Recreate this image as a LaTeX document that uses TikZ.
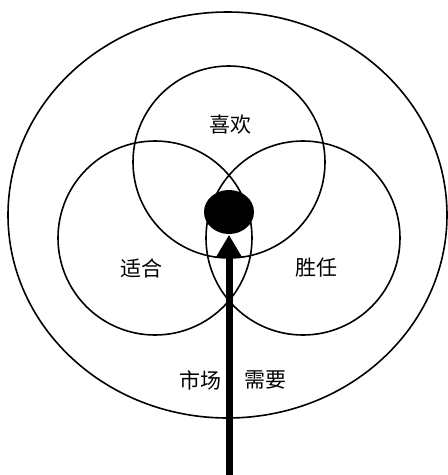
\documentclass[tikz,border=0pt]{standalone}
\usepackage{fontspec}
\newfontfamily\cjk{Noto Sans CJK SC}
\usetikzlibrary{arrows.meta,shapes.geometric}

\begin{document}
\begin{tikzpicture}[x=1pt, y=-1pt, line width=1.6pt,
    txt/.style={font=\cjk\fontsize{21}{24}\selectfont}]
    \useasboundingbox (0,0) rectangle (448,475);
    % 外圈
    \draw (227.5,215) ellipse [x radius=219.5, y radius=203];
    
    % 三个圆
    \draw (229,162) circle [radius=96];
    \draw (155,238) circle [radius=97];
    \draw (303,238) circle [radius=97];
    
    % 中心黑点
    \node[ellipse, fill=black, minimum width=50pt, minimum height=44pt, inner sep=0pt] (dot) at (229,212) {};
    
    % 箭头
    \coordinate (base) at (229,475);
    \draw[line width=7pt, -{Triangle[width=24pt,length=22pt]}] (base) -- (dot.south);
    
    % 文字
    \node[txt] (xihuan) at (230,125) {喜欢};
    \node[txt] (shihe) at (142,268) {适合};
    \node[txt] (shengren) at (316,268) {胜任};
    \node[txt] (shichang) at (200,380) {市场};
    \node[txt] (xuyao) at (265,380) {需要};
\end{tikzpicture}
\end{document}
